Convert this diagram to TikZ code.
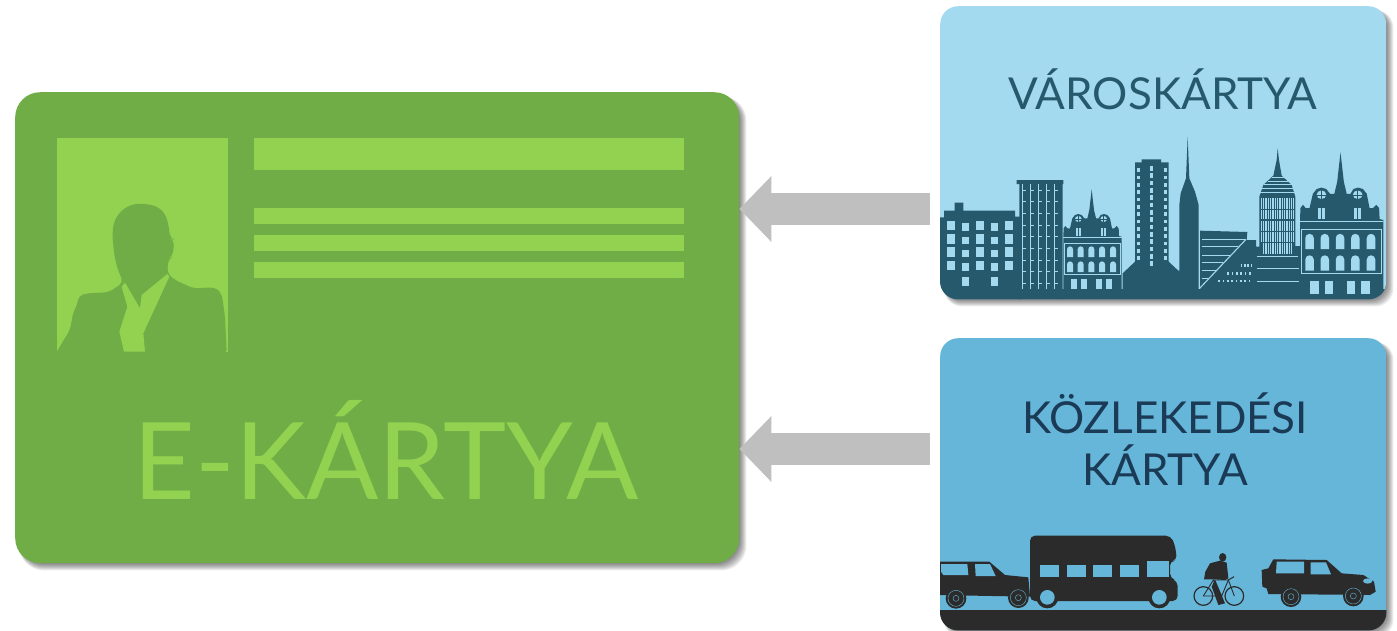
\documentclass[tikz,border=0pt]{standalone}
\usepackage{fontspec}
\setmainfont{Lato}
\usetikzlibrary{arrows.meta,backgrounds}

\definecolor{cardgreen}{HTML}{70AD47}
\definecolor{lightgreen}{HTML}{92D250}
\definecolor{cityblue}{HTML}{A3DAF0}
\definecolor{citydark}{HTML}{27596C}
\definecolor{transitblue}{HTML}{66B6D9}
\definecolor{transitdark}{HTML}{2B2B2B}
\definecolor{transittext}{HTML}{1A3A56}
\definecolor{arrowgray}{HTML}{BFBFBF}

\newcommand{\cardshadow}[2]{
  \foreach \s in {0,...,7}
    \fill[black,opacity=0.08,rounded corners=#2]
      ([shift={(4,4)}]#1.north west) rectangle ([shift={(\s,\s)}]#1.south east);
}

\tikzset{
  townhouse/.pic={
    \fill[citydark] (0,158) -- (0,-2) -- (1,-25) -- (6,-32) -- (12,-25) -- (20,-25) -- (27,-55) -- (35,-65) -- (45,-68) -- (55,-65) -- (63,-55)
      -- (72,-55) -- (78,-80) -- (85,-142) -- (92,-80) -- (98,-55) -- (106,-55) -- (112,-65) -- (122,-68) -- (132,-65)
      -- (140,-55) -- (146,-25) -- (153,-25) -- (160,-32) -- (166,-25) -- (167,-2) -- (175,0) -- (175,158) -- cycle;
    \draw[cityblue,line width=0.5pt] (2,20) rectangle (170,112);
    \draw[cityblue,line width=0.4pt] (0,2) -- (175,2);
    \foreach \x in {20,52,84,116,149}
      \foreach \y in {45,90}
        \fill[cityblue] (\x-9,\y+16) -- (\x-9,\y-7) arc (180:360:9) -- (\x+9,\y+16) -- cycle;
    \foreach \x in {31,61,107,137}
      \fill[cityblue] (\x-9,127) rectangle (\x+9,156);
    \foreach \x in {45,121} {
      \fill[cityblue] (\x,-53) ellipse (10 and 9);
      \draw[citydark,line width=0.4pt] (\x-10,-53) -- (\x+10,-53) (\x,-62) -- (\x,-44);
      \fill[cityblue] (\x-7,-25) rectangle (\x+7,-2);
      \draw[citydark,line width=0.4pt] (\x,-25) -- (\x,-2);
    }
  },
  carwheel/.pic={
    \fill[transitdark] (0,0) circle (31);
    \draw[transitblue,line width=0.4pt] (0,0) circle (24);
    \draw[transitblue,line width=0.4pt] (0,0) circle (9);
  },
  buswheel/.pic={
    \fill[transitdark] (0,0) circle (33);
    \fill[transitblue] (0,0) circle (22);
  }
}

\begin{document}
\begin{tikzpicture}[x=1pt,y=-1pt]
\tikzstyle{card}=[rounded corners=#1, inner sep=0pt, anchor=north west]
\tikzstyle{title}=[inner sep=0pt, align=center, font=\fontsize{44}{52}\selectfont]
\tikzstyle{greenbar}=[fill=lightgreen, inner sep=0pt, anchor=north west]
\tikzstyle{blockarrow}=[arrowgray, line width=32pt, -{Triangle[length=32pt,width=64pt]}]

\useasboundingbox (0,0) rectangle (1397,630);

\node[card=25pt, fill=cardgreen, minimum width=724pt, minimum height=471pt] (ecard) at (15,92) {};
\node[card=18pt, fill=cityblue, minimum width=446pt, minimum height=293pt] (citycard) at (940,6) {};
\node[card=18pt, fill=transitblue, minimum width=446pt, minimum height=292pt] (transitcard) at (940,338) {};

\begin{pgfonlayer}{background}
\cardshadow{ecard}{25pt}
\cardshadow{citycard}{18pt}
\cardshadow{transitcard}{18pt}
\end{pgfonlayer}

\node[greenbar, minimum width=171pt, minimum height=214pt] (photo) at (57,138) {};
\node[greenbar, minimum width=430pt, minimum height=32pt] (barname) at (254,138) {};
\node[greenbar, minimum width=430pt, minimum height=16pt] (barone) at (254,208) {};
\node[greenbar, minimum width=430pt, minimum height=16pt] (bartwo) at (254,235) {};
\node[greenbar, minimum width=430pt, minimum height=16pt] (barthree) at (254,262) {};

\begin{scope}[shift={(40,130)},scale=1/3]
\fill[cardgreen, rounded corners=5pt] (50,672) -- (50,665) -- (90,600) -- (100,545) -- (112,525) -- (115,498) -- (140,490) -- (205,487)
  -- (250,458) -- (232,415) -- (222,370) -- (217,310) -- (222,275) -- (240,245) -- (270,225) -- (305,220)
  -- (350,228) -- (375,250) -- (386,285) -- (390,325) -- (403,330) -- (398,380) -- (385,385) -- (382,430)
  -- (405,450) -- (460,475) -- (525,472) -- (545,490) -- (555,560) -- (560,665) -- (560,672) -- cycle;
\fill[lightgreen] (245,470) -- (262,530) -- (238,605) -- (252,665) -- (315,665) -- (310,610) -- (388,440)
  -- (382,432) -- (305,495) -- (300,535) -- (255,458) -- cycle;
\end{scope}

\node[title, text=lightgreen, font=\fontsize{107}{120}\selectfont] (etitle) at (386,450) {E-KÁRTYA};
\node[title, text=citydark] (citytitle) at (1163,89) {VÁROSKÁRTYA};
\node[title, text=transittext] (transittitle) at (1165,439) {KÖZLEKEDÉSI\\KÁRTYA};

\coordinate (cityfrom) at (930,209);
\coordinate (transitfrom) at (930,449);
\draw[blockarrow] (cityfrom) -- (ecard.east |- cityfrom);
\draw[blockarrow] (transitfrom) -- (ecard.east |- transitfrom);

\begin{scope}
\clip[rounded corners=18pt] (citycard.north west) rectangle (citycard.south east);
\begin{scope}[shift={(930,130)},scale=1/3]
\fill[citydark] (20,262) -- (42,262) -- (42,242) -- (74,242) -- (74,218) -- (100,218) -- (100,242) -- (255,242)
  -- (255,260) -- (272,260) -- (272,520) -- (20,520) -- cycle;
\fill[citydark] (260,150) -- (400,150) -- (400,162) -- (398,162) -- (398,520) -- (268,520) -- (268,162) -- (260,162) -- cycle;
\fill[citydark] (395,478) rectangle (1380,520);
\fill[citydark] (578,478) -- (578,430) -- (615,395) -- (615,97) -- (635,97) -- (635,88) -- (693,88) -- (693,97)
  -- (716,97) -- (716,395) -- (745,422) -- (748,422) -- (748,225) -- (752,190) -- (768,145) -- (773,20)
  -- (778,145) -- (795,185) -- (806,225) -- (806,478) -- cycle;
\fill[citydark] (810,478) -- (810,302) -- (952,306) -- (950,330) -- (978,330) -- (978,350) -- (988,350) -- (988,200)
  -- (1000,165) -- (1030,137) -- (1040,90) -- (1043,55) -- (1047,90) -- (1055,137) -- (1085,165) -- (1096,200)
  -- (1096,348) -- (1110,348) -- (1110,478) -- cycle;
\pic[transform shape] at (400,320) {townhouse};
\pic[transform shape,scale=1.43] at (1110,270) {townhouse};
\foreach \x in {52,139,224}
  \foreach \y in {272,312,352,392}
    \fill[cityblue] (\x,\y) rectangle ++(24,29);
\foreach \x in {97,182}
  \foreach \y in {280,320,360,400}
    \fill[cityblue] (\x,\y) rectangle ++(21,22);
\foreach \x in {97,182}
  \fill[cityblue] (\x,441) rectangle ++(21,26);
\foreach \x in {277,301,325,349,374} {
  \draw[cityblue,line width=0.8pt] (\x,162) -- (\x,478);
  \foreach \y in {180,215,...,460}
    \draw[cityblue,line width=0.6pt] (\x,\y) -- ++(11,0);
}
\foreach \y in {115,137,...,380} {
  \fill[cityblue] (622,\y) rectangle ++(8,11);
  \fill[cityblue] (702,\y) rectangle ++(8,11);
}
\foreach \y in {108,130,...,415}
  \fill[cityblue] (660,\y) rectangle ++(10,14);
\foreach \y/\xend in {327/945,350/925,375/903,398/880,420/858,445/835}
  \draw[cityblue,line width=0.7pt] (815,\y) -- (\xend,\y);
\draw[cityblue,line width=1.1pt] (808,476) -- (948,328);
\foreach \x in {935,945,955,965}
  \fill[cityblue] (\x-3,403) rectangle ++(5,8);
\foreach \x in {892,905,918,931,944,957}
  \fill[cityblue] (\x,426) rectangle ++(5,8);
\foreach \x in {865,878,891,904,917,930,943,956}
  \fill[cityblue] (\x,449) rectangle ++(5,8);
\draw[cityblue,line width=1pt] (980,380) -- (1105,380);
\draw[cityblue,line width=1pt] (980,415) -- (1108,415);
\draw[cityblue,line width=1pt] (982,455) -- (1108,455);
\fill[cityblue] (993,205) rectangle (1092,335);
\foreach \x in {997,1004,...,1090}
  \draw[citydark,line width=0.4pt] (\x,205) -- (\x,372);
\foreach \y in {236,268,302,335}
  \fill[citydark] (993,\y) rectangle (1092,\y+4);
\fill[cityblue] (997,340) rectangle (1088,372);
\foreach \x in {997,1004,...,1090}
  \draw[citydark,line width=0.4pt] (\x,340) -- (\x,372);
\foreach \y/\w in {143/18,153/30,163/42,175/58,188/72}
  \draw[cityblue,line width=0.6pt] (1043-\w,\y) -- (1043+\w,\y);
\end{scope}
\end{scope}

\begin{scope}
\clip[rounded corners=18pt] (transitcard.north west) rectangle (transitcard.south east);
\begin{scope}[shift={(930,520)},scale=1/3]
\fill[transitdark] (0,270) rectangle (1400,340);
\fill[transitdark] (20,125) -- (178,125) -- (225,165) -- (295,172) -- (300,230) -- (20,225) -- cycle;
\fill[transitblue] (33,132) -- (112,132) -- (115,165) -- (40,165) -- (33,155) -- cycle;
\fill[transitblue] (135,132) -- (180,132) -- (197,168) -- (137,168) -- cycle;
\pic[transform shape] at (78,235) {carwheel};
\pic[transform shape] at (265,233) {carwheel};
\fill[transitdark, rounded corners=5pt] (300,243) -- (300,47) -- (722,47) -- (735,75) -- (741,122) -- (720,122)
  -- (720,175) -- (743,183) -- (743,243) -- cycle;
\foreach \x in {330,410,490,570}
  \fill[transitblue] (\x,135) rectangle ++(57,37);
\fill[transitblue] (650,123) rectangle (718,172);
\pic[transform shape] at (352,232) {buswheel};
\pic[transform shape] at (688,232) {buswheel};
\draw[transitdark,line width=1.2pt] (820,228) circle (28);
\draw[transitdark,line width=1.2pt] (913,228) circle (28);
\draw[transitdark,line width=0.9pt] (820,228) -- (850,180) -- (895,180) -- (913,228);
\draw[transitdark,line width=0.9pt] (820,228) -- (875,228) -- (895,180);
\draw[transitdark,line width=0.9pt] (850,180) -- (875,228);
\draw[transitdark,line width=1pt] (895,180) -- (912,170);
\fill[transitdark] (878,112) ellipse (11 and 13);
\fill[transitdark] (870,122) -- (890,128) -- (895,175) -- (885,180) -- (855,178) -- (822,178) -- (826,155) -- (840,130) -- cycle;
\fill[transitdark] (855,178) -- (885,250) -- (865,255) -- (845,200) -- cycle;
\fill[transitdark] (1030,118) -- (1190,120) -- (1235,160) -- (1300,165) -- (1332,185) -- (1337,215) -- (1320,225)
  -- (1015,222) -- (1010,205) -- (997,200) -- (995,150) -- (1015,145) -- cycle;
\fill[transitblue] (1040,125) -- (1122,125) -- (1122,160) -- (1038,160) -- cycle;
\fill[transitblue] (1142,127) -- (1188,127) -- (1203,163) -- (1142,163) -- cycle;
\fill[transitblue] (1313,183) ellipse (14 and 8);
\pic[transform shape] at (1083,230) {carwheel};
\pic[transform shape] at (1270,228) {carwheel};
\end{scope}
\end{scope}
\end{tikzpicture}
\end{document}
